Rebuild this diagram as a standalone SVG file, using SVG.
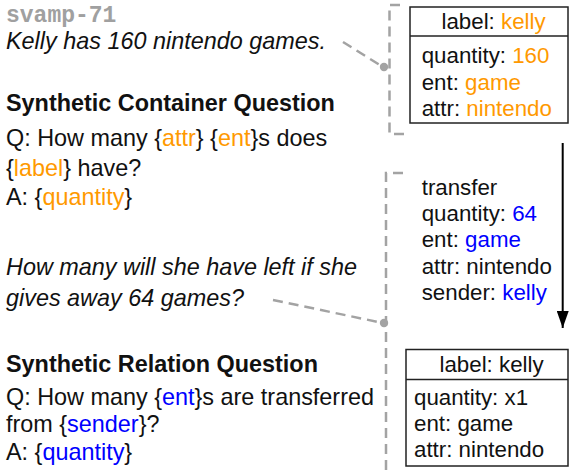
<svg xmlns="http://www.w3.org/2000/svg" width="569" height="471" viewBox="0 0 569 471">
<defs>
<style>
text{font-family:"Liberation Sans",Arial,sans-serif;fill:#111}
.l{font-size:23.4px}
.r{font-size:22.3px}
.it{font-style:italic}
.b{font-weight:bold}
.mono{font-family:"Liberation Mono","Courier New",monospace;font-weight:bold;fill:#a0a0a0;font-size:23px}
.o{fill:#ff9900}
.bl{fill:#0000ff}
.box{fill:#fff;stroke:#222;stroke-width:1.5}
.sep{stroke:#222;stroke-width:1.5}
.dash{fill:none;stroke:#a3a3a3;stroke-width:2.5;stroke-dasharray:10 6}
.dot{fill:#a3a3a3}
.arrow{stroke:#000;stroke-width:2}
</style>
<marker id="ah" markerWidth="17" markerHeight="12" refX="17" refY="6" orient="auto" markerUnits="userSpaceOnUse" viewBox="0 0 17 12">
<path d="M0,0 L17,6 L0,12 Z" fill="#000"/>
</marker>
</defs>

<g id="problem-id"><text class="mono" x="6" y="22">svamp-71</text></g>
<g id="sentence-1"><text class="l it" x="6" y="49">Kelly has 160 nintendo games.</text></g>
<g id="container-question">
<text class="l b" x="6" y="111">Synthetic Container Question</text>
<text class="l" x="6" y="145.5">Q: How many {<tspan class="o">attr</tspan>} {<tspan class="o">ent</tspan>}s does</text>
<text class="l" x="6" y="175.5">{<tspan class="o">label</tspan>} have?</text>
<text class="l" x="6" y="205">A: {<tspan class="o">quantity</tspan>}</text>
</g>
<g id="sentence-2">
<text class="l it" x="6" y="275">How many will she have left if she</text>
<text class="l it" x="6" y="306">gives away 64 games?</text>
</g>
<g id="relation-question">
<text class="l b" x="6" y="372">Synthetic Relation Question</text>
<text class="l" x="6" y="404.5">Q: How many {<tspan class="bl">ent</tspan>}s are transferred</text>
<text class="l" x="6" y="432">from {<tspan class="bl">sender</tspan>}?</text>
<text class="l" x="6" y="460">A: {<tspan class="bl">quantity</tspan>}</text>
</g>

<g id="connectors">
<path class="dash" d="M400,5 H389.5 V134 H405"/>
<path class="dash" d="M343,42 L383,67"/>
<circle class="dot" cx="384" cy="67" r="4.2"/>
<path class="dash" d="M403,173 H386 V475"/>
<path class="dash" d="M273,300 L383,323"/>
<circle class="dot" cx="384" cy="323" r="4.2"/>
<line class="arrow" x1="562.7" y1="143" x2="562.7" y2="328" marker-end="url(#ah)"/>
</g>

<g id="container-1">
<rect class="box" x="410" y="7" width="158" height="116"/>
<line class="sep" x1="410" y1="36" x2="568" y2="36"/>
<text class="r" x="441.5" y="28.5">label: <tspan class="o">kelly</tspan></text>
<text class="r" x="421.7" y="63">quantity: <tspan class="o">160</tspan></text>
<text class="r" x="421.7" y="89.5">ent: <tspan class="o">game</tspan></text>
<text class="r" x="421.7" y="115.5">attr: <tspan class="o">nintendo</tspan></text>
</g>

<g id="transfer">
<text class="r" x="421.7" y="194.5">transfer</text>
<text class="r" x="421.7" y="221">quantity: <tspan class="bl">64</tspan></text>
<text class="r" x="421.7" y="247">ent: <tspan class="bl">game</tspan></text>
<text class="r" x="421.7" y="273.5">attr: nintendo</text>
<text class="r" x="421.7" y="300">sender: <tspan class="bl">kelly</tspan></text>
</g>

<g id="container-2">
<rect class="box" x="406" y="349.5" width="162" height="116.5"/>
<line class="sep" x1="406" y1="379.5" x2="568" y2="379.5"/>
<text class="r" x="439.5" y="371.5">label: kelly</text>
<text class="r" x="414" y="405">quantity: x1</text>
<text class="r" x="414" y="431">ent: game</text>
<text class="r" x="414" y="457">attr: nintendo</text>
</g>
</svg>
